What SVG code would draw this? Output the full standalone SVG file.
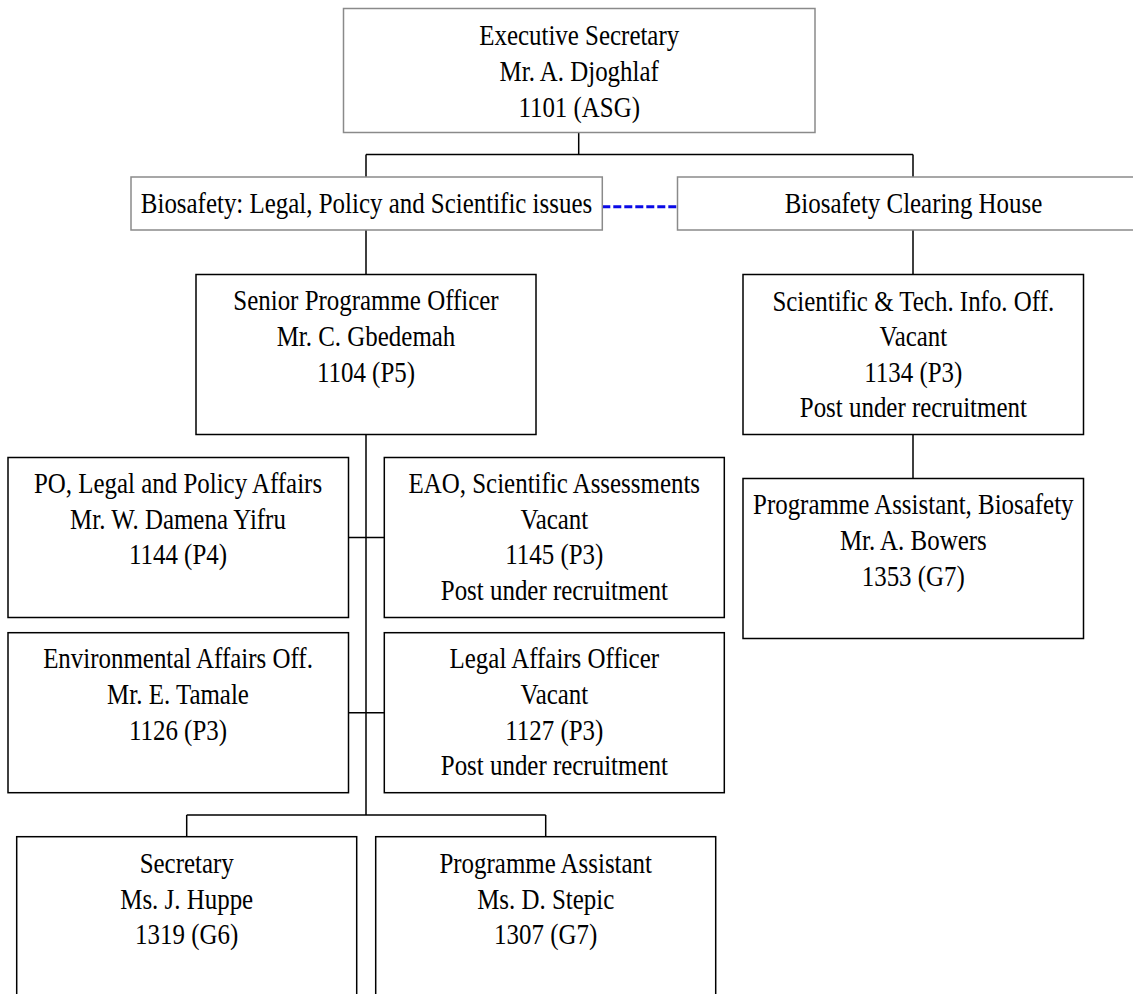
<svg xmlns="http://www.w3.org/2000/svg" width="1133" height="994" viewBox="0 0 1133 994">
<style>
  .box{fill:#ffffff;stroke:#000000;stroke-width:1.5}
  .gbox{fill:#ffffff;stroke:#8a8a8a;stroke-width:1.5}
  .conn{fill:none;stroke:#000000;stroke-width:1.5}
  .dash{fill:none;stroke:#0a0ae6;stroke-width:3;stroke-dasharray:8 3}
  text{font-family:"Liberation Serif","Times New Roman",serif;font-size:29px;fill:#000000;text-anchor:middle}
</style>
<rect x="0" y="0" width="1133" height="994" fill="#ffffff"/>
<g id="connectors">
  <path class="conn" d="M578.7 132.7 V154.5 M366 154.5 H913 M366 154.5 V177 M913 154.5 V177"/>
  <path class="conn" d="M366 230 V274.5 M913 230 V274.5 M913 434.5 V478.5"/>
  <path class="conn" d="M366 434.5 V815 M348.5 537.5 H384.3 M348.5 712.7 H384.3"/>
  <path class="conn" d="M186.7 815 H545.7 M186.7 815 V836.7 M545.7 815 V836.7"/>
  <path class="dash" d="M602.3 206.7 H677.5"/>
</g>
<g id="exec">
  <rect class="gbox" x="343.5" y="8.5" width="471.5" height="124"/>
  <g transform="translate(579.2,0) scale(0.86,1)">
    <text x="0" y="45">Executive Secretary</text>
    <text x="0" y="81.5">Mr. A. Djoghlaf</text>
    <text x="0" y="117">1101 (ASG)</text>
  </g>
</g>
<g id="bio-legal">
  <rect class="gbox" x="131" y="177" width="471.3" height="53"/>
  <g transform="translate(366.5,0) scale(0.86,1)">
    <text x="0" y="213.5">Biosafety: Legal, Policy and Scientific issues</text>
  </g>
</g>
<g id="bch">
  <rect class="gbox" x="677.5" y="177" width="470" height="53"/>
  <g transform="translate(913.5,0) scale(0.86,1)">
    <text x="0" y="213.5">Biosafety Clearing House</text>
  </g>
</g>
<g id="senior">
  <rect class="box" x="196" y="274.5" width="340" height="160"/>
  <g transform="translate(366,0) scale(0.86,1)">
    <text x="0" y="310.5">Senior Programme Officer</text>
    <text x="0" y="346">Mr. C. Gbedemah</text>
    <text x="0" y="381.7">1104 (P5)</text>
  </g>
</g>
<g id="sci">
  <rect class="box" x="743" y="274.5" width="340.5" height="160"/>
  <g transform="translate(913.3,0) scale(0.86,1)">
    <text x="0" y="310.7">Scientific &amp; Tech. Info. Off.</text>
    <text x="0" y="346.5">Vacant</text>
    <text x="0" y="381.7">1134 (P3)</text>
    <text x="0" y="417.3">Post under recruitment</text>
  </g>
</g>
<g id="pa-bio">
  <rect class="box" x="743" y="478.5" width="340.5" height="160"/>
  <g transform="translate(913.3,0) scale(0.86,1)">
    <text x="0" y="514">Programme Assistant, Biosafety</text>
    <text x="0" y="550">Mr. A. Bowers</text>
    <text x="0" y="586">1353 (G7)</text>
  </g>
</g>
<g id="po-legal">
  <rect class="box" x="8" y="457.5" width="340.5" height="160"/>
  <g transform="translate(178,0) scale(0.86,1)">
    <text x="0" y="493.3">PO, Legal and Policy Affairs</text>
    <text x="0" y="529">Mr. W. Damena Yifru</text>
    <text x="0" y="564">1144 (P4)</text>
  </g>
</g>
<g id="eao">
  <rect class="box" x="384.3" y="457.5" width="340" height="160"/>
  <g transform="translate(554.3,0) scale(0.86,1)">
    <text x="0" y="493.3">EAO, Scientific Assessments</text>
    <text x="0" y="529">Vacant</text>
    <text x="0" y="564">1145 (P3)</text>
    <text x="0" y="600">Post under recruitment</text>
  </g>
</g>
<g id="env">
  <rect class="box" x="8" y="632.7" width="340.5" height="160"/>
  <g transform="translate(178,0) scale(0.86,1)">
    <text x="0" y="668.3">Environmental Affairs Off.</text>
    <text x="0" y="704">Mr. E. Tamale</text>
    <text x="0" y="740">1126 (P3)</text>
  </g>
</g>
<g id="legal">
  <rect class="box" x="384.3" y="632.7" width="340" height="160"/>
  <g transform="translate(554.3,0) scale(0.86,1)">
    <text x="0" y="668.3">Legal Affairs Officer</text>
    <text x="0" y="704">Vacant</text>
    <text x="0" y="740">1127 (P3)</text>
    <text x="0" y="775.5">Post under recruitment</text>
  </g>
</g>
<g id="secretary">
  <rect class="box" x="16.7" y="836.7" width="340" height="200"/>
  <g transform="translate(186.7,0) scale(0.86,1)">
    <text x="0" y="873.3">Secretary</text>
    <text x="0" y="908.7">Ms. J. Huppe</text>
    <text x="0" y="944">1319 (G6)</text>
  </g>
</g>
<g id="prog-assistant">
  <rect class="box" x="375.7" y="836.7" width="340" height="200"/>
  <g transform="translate(545.7,0) scale(0.86,1)">
    <text x="0" y="873.3">Programme Assistant</text>
    <text x="0" y="908.7">Ms. D. Stepic</text>
    <text x="0" y="944">1307 (G7)</text>
  </g>
</g>
</svg>
